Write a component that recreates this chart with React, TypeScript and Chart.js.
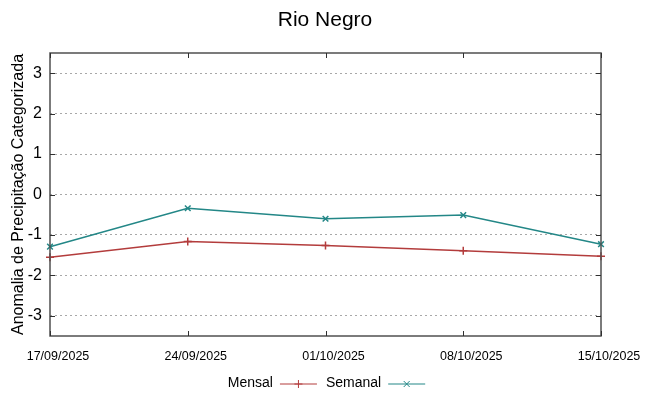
import React, { useEffect, useRef } from "react";
import { Chart, registerables } from "chart.js";

Chart.register(...registerables);

const title = "Rio Negro";
const yTitle = "Anomalia de Precipitação Categorizada";
const dates = ["17/09/2025", "24/09/2025", "01/10/2025", "08/10/2025", "15/10/2025"];
const mensal = [-1.55, -1.16, -1.26, -1.39, -1.53];
const semanal = [-1.29, -0.34, -0.6, -0.51, -1.23];
const yTickValues = [-3, -2, -1, 0, 1, 2, 3];

const MENSAL_COLOR = "#b33c3c";
const SEMANAL_COLOR = "#238787";
const FONT = "'Liberation Sans', Arial, sans-serif";

function drawMarker(ctx: CanvasRenderingContext2D, kind: string, x: number, y: number, r: number) {
  ctx.beginPath();
  if (kind === "cross") {
    ctx.moveTo(x - r, y);
    ctx.lineTo(x + r, y);
    ctx.moveTo(x, y - r);
    ctx.lineTo(x, y + r);
  } else {
    ctx.moveTo(x - r, y - r);
    ctx.lineTo(x + r, y + r);
    ctx.moveTo(x - r, y + r);
    ctx.lineTo(x + r, y - r);
  }
  ctx.stroke();
}

const framePlugin = {
  id: "frameAndKey",
  afterDraw(chart: any) {
    const { ctx, chartArea } = chart;
    const { left, right, top, bottom } = chartArea;
    ctx.save();
    // title
    ctx.fillStyle = "#000";
    ctx.font = "21px " + FONT;
    ctx.textAlign = "center";
    ctx.textBaseline = "middle";
    ctx.fillText(title, chart.width / 2 + 0.5, 20);
    // frame
    ctx.strokeStyle = "#505050";
    ctx.lineWidth = 1.5;
    ctx.strokeRect(left, top, right - left, bottom - top);
    // ticks
    ctx.lineWidth = 1;
    ctx.strokeStyle = "#303030";
    const ys = chart.scales.y;
    yTickValues.forEach((v) => {
      const py = Math.round(ys.getPixelForValue(v)) + 0.5;
      ctx.beginPath();
      ctx.moveTo(left, py);
      ctx.lineTo(left + 5, py);
      ctx.moveTo(right, py);
      ctx.lineTo(right - 5, py);
      ctx.stroke();
    });
    const xs = chart.scales.x;
    dates.forEach((_d, i) => {
      const px = Math.round(xs.getPixelForValue(i)) + 0.5;
      ctx.beginPath();
      ctx.moveTo(px, bottom);
      ctx.lineTo(px, bottom - 5);
      ctx.moveTo(px, top);
      ctx.lineTo(px, top + 5);
      ctx.stroke();
    });
    // key
    ctx.font = "14px " + FONT;
    ctx.textBaseline = "middle";
    ctx.textAlign = "right";
    const entries = chart.data.datasets.map((ds: any) => ({
      label: ds.label,
      color: ds.borderColor,
      marker: ds.pointStyle === "cross" ? "cross" : "x",
    }));
    const sampleW = 37;
    const gapTS = 7;
    const gapE = 9;
    const widths = entries.map((e: any) => ctx.measureText(e.label).width);
    let total = 0;
    widths.forEach((w: number, i: number) => {
      total += w + gapTS + sampleW + (i < widths.length - 1 ? gapE : 0);
    });
    let x = chart.width / 2 + 2 - total / 2;
    const ky = 383.5;
    entries.forEach((e: any, i: number) => {
      ctx.fillStyle = "#000";
      ctx.fillText(e.label, x + widths[i], ky);
      const sx = x + widths[i] + gapTS;
      ctx.strokeStyle = e.color;
      ctx.lineWidth = 1;
      ctx.beginPath();
      ctx.moveTo(sx, ky + 0.5);
      ctx.lineTo(sx + sampleW, ky + 0.5);
      ctx.stroke();
      drawMarker(ctx, e.marker, sx + sampleW / 2, ky + 0.5, e.marker === "cross" ? 4 : 3);
      x = sx + sampleW + gapE;
    });
    ctx.restore();
  },
};

export default function App() {
  const ref = useRef<HTMLCanvasElement | null>(null);
  useEffect(() => {
    document.body.style.margin = "0";
    if (!ref.current) return;
    const chart = new Chart(ref.current, {
      type: "line",
      data: {
        labels: dates,
        datasets: [
          {
            label: "Mensal",
            data: mensal,
            borderColor: MENSAL_COLOR,
            backgroundColor: MENSAL_COLOR,
            borderWidth: 1.5,
            pointStyle: "cross",
            pointRadius: 4,
            pointBorderWidth: 1.5,
            tension: 0,
            clip: false,
          },
          {
            label: "Semanal",
            data: semanal,
            borderColor: SEMANAL_COLOR,
            backgroundColor: SEMANAL_COLOR,
            borderWidth: 1.5,
            pointStyle: "crossRot",
            pointRadius: 4,
            pointBorderWidth: 1.5,
            tension: 0,
            clip: false,
          },
        ],
      },
      options: {
        responsive: false,
        animation: false,
        devicePixelRatio: 1,
        layout: { padding: { left: 0, right: 48, top: 53, bottom: 30 } },
        plugins: {
          legend: { display: false },
          tooltip: { enabled: false },
          title: { display: false },
        },
        scales: {
          x: {
            type: "category",
            offset: false,
            grid: { display: false, drawTicks: false },
            border: { display: false },
            ticks: {
              color: "#000",
              font: { family: FONT, size: 12.5 },
              padding: 13,
              labelOffset: 8,
              maxRotation: 0,
              autoSkip: false,
            },
            afterFit: (s: any) => {
              s.height = 30;
            },
          },
          y: {
            min: -3.5,
            max: 3.5,
            grid: { display: true, drawTicks: false, color: "#a8a8a8", lineWidth: 1 },
            border: { display: false, dash: [2, 3] },
            ticks: {
              stepSize: 1,
              color: "#000",
              font: { family: FONT, size: 16 },
              padding: 8,
            },
            afterBuildTicks: (s: any) => {
              s.ticks = yTickValues.map((v) => ({ value: v }));
            },
            title: {
              display: true,
              text: yTitle,
              color: "#000",
              font: { family: FONT, size: 16 },
              padding: { top: 8.5, bottom: 0 },
            },
            afterFit: (s: any) => {
              s.width = 50;
            },
          },
        },
      },
      plugins: [framePlugin],
    } as any);
    return () => chart.destroy();
  }, []);
  return (
    <div style={{ width: 649, height: 396 }}>
      <canvas ref={ref} width={649} height={396} />
    </div>
  );
}
